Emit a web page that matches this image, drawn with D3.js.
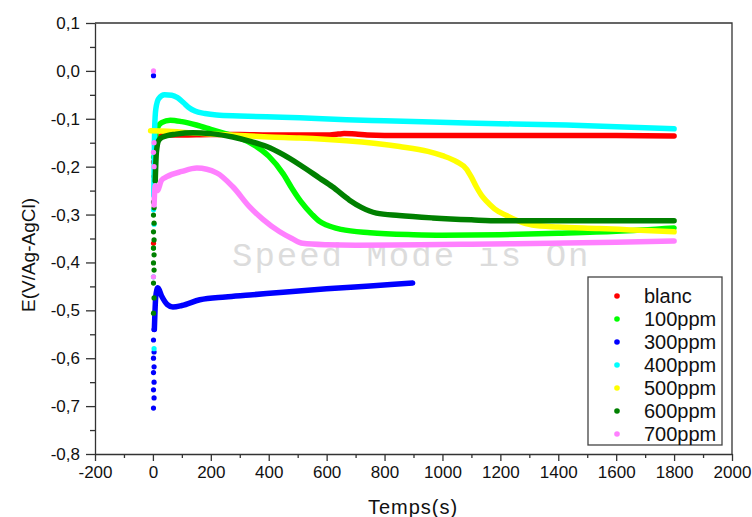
<!DOCTYPE html>
<html>
<head>
<meta charset="utf-8">
<script src="https://cdn.jsdelivr.net/npm/d3@7"></script>
<style>
    body { margin: 0; background: #fff; }
    text { font-family: "Liberation Sans", Arial, sans-serif; fill: #111; }
    .axis path, .axis line { stroke: #333; stroke-width: 1.3; }
    .axis text { font-size: 17px; }
</style>
</head>
<body>
<div id="chart"></div>
<script>
// values
var names = ["blanc", "100ppm", "300ppm", "400ppm", "500ppm", "600ppm", "700ppm"];
var colors = ["#ff0000", "#00ff00", "#0000ff", "#00ffff", "#ffff00", "#008000", "#ff80ff"];

var blancT = [10, 30, 60, 100, 200, 300, 400, 500, 600, 640, 660, 700, 740, 800, 1000, 1200, 1400, 1600, 1800];
var blancE = [-0.15, -0.135, -0.134, -0.134, -0.133, -0.133, -0.134, -0.134, -0.134, -0.132, -0.131, -0.132, -0.134, -0.135, -0.135, -0.135, -0.135, -0.135, -0.136];
var blancStart = [-0.36, -0.22, -0.19, -0.17];

var p100T = [7, 15, 30, 60, 100, 150, 200, 250, 300, 350, 400, 450, 480, 510, 550, 575, 600, 650, 750, 900, 1000, 1200, 1400, 1600, 1800];
var p100E = [-0.145, -0.12, -0.108, -0.103, -0.106, -0.113, -0.122, -0.131, -0.14, -0.155, -0.178, -0.215, -0.245, -0.272, -0.3, -0.314, -0.322, -0.331, -0.338, -0.342, -0.343, -0.342, -0.339, -0.335, -0.328];
var p100Start = [-0.37, -0.22, -0.18];

var p300T = [5, 10, 17, 30, 50, 69, 100, 162, 250, 334, 450, 600, 750, 897];
var p300E = [-0.54, -0.47, -0.453, -0.47, -0.488, -0.493, -0.49, -0.478, -0.472, -0.468, -0.462, -0.455, -0.449, -0.443];
var p300Start = [-0.01, -0.54, -0.562, -0.587, -0.6, -0.618, -0.63, -0.65, -0.666, -0.683, -0.704];

var p400T = [3, 6, 10, 20, 40, 65, 85, 105, 125, 145, 180, 220, 300, 393, 507, 669, 800, 1083, 1428, 1800];
var p400E = [-0.26, -0.12, -0.08, -0.058, -0.05, -0.051, -0.056, -0.066, -0.077, -0.084, -0.089, -0.092, -0.094, -0.096, -0.098, -0.102, -0.104, -0.109, -0.113, -0.121];
var p400Start = [-0.29, -0.32, -0.43, -0.58];

var p500T = [-8, 50, 100, 200, 300, 400, 507, 669, 852, 950, 1000, 1050, 1083, 1100, 1117, 1135, 1152, 1180, 1221, 1260, 1310, 1400, 1541, 1650, 1800];
var p500E = [-0.125, -0.126, -0.128, -0.132, -0.135, -0.138, -0.14, -0.146, -0.158, -0.168, -0.177, -0.19, -0.205, -0.222, -0.242, -0.26, -0.272, -0.288, -0.302, -0.313, -0.322, -0.326, -0.329, -0.332, -0.336];
var p500Start = [];

var p600T = [8, 12, 20, 34, 80, 138, 200, 276, 330, 393, 450, 507, 576, 620, 679, 720, 772, 850, 966, 1100, 1197, 1400, 1541, 1800];
var p600E = [-0.23, -0.17, -0.145, -0.138, -0.132, -0.129, -0.131, -0.138, -0.146, -0.158, -0.175, -0.196, -0.224, -0.242, -0.27, -0.285, -0.297, -0.302, -0.307, -0.311, -0.313, -0.313, -0.313, -0.313];
var p600Start = [-0.274, -0.286, -0.301, -0.318, -0.336, -0.353, -0.37, -0.384, -0.401, -0.416, -0.443, -0.474, -0.506];

var p700T = [4, 8, 15, 30, 48, 100, 152, 220, 276, 334, 380, 438, 480, 517, 600, 700, 921, 1100, 1379, 1600, 1800];
var p700E = [-0.28, -0.24, -0.25, -0.228, -0.221, -0.21, -0.203, -0.213, -0.242, -0.284, -0.31, -0.336, -0.35, -0.36, -0.363, -0.364, -0.363, -0.362, -0.36, -0.358, -0.355];
var p700Start = [0.0, -0.15, -0.17, -0.2, -0.43];

var xTicks = [-200, 0, 200, 400, 600, 800, 1000, 1200, 1400, 1600, 1800, 2000];
var yTicks = [-0.8, -0.7, -0.6, -0.5, -0.4, -0.3, -0.2, -0.1, 0.0, 0.1];

var seriesT = [blancT, p100T, p300T, p400T, p500T, p600T, p700T];
var seriesE = [blancE, p100E, p300E, p400E, p500E, p600E, p700E];
var seriesStart = [blancStart, p100Start, p300Start, p400Start, p500Start, p600Start, p700Start];

var width = 752, height = 517,
    plotLeft = 95, plotRight = 732, plotTop = 23, plotBottom = 454;

var svg = d3.select("#chart").append("svg")
    .attr("width", width)
    .attr("height", height);

var x = d3.scaleLinear().domain([-200, 2000]).range([plotLeft, plotRight]);
var y = d3.scaleLinear().domain([-0.8, 0.1]).range([plotBottom, plotTop]);

// minor ticks
svg.append("g")
    .attr("class", "axis")
    .attr("transform", "translate(0," + plotBottom + ")")
    .call(d3.axisBottom(x).tickValues(d3.range(-100, 2000, 200)).tickSize(4).tickFormat(""))
    .select(".domain").remove();
svg.append("g")
    .attr("class", "axis")
    .attr("transform", "translate(" + plotLeft + ",0)")
    .call(d3.axisLeft(y).tickValues(d3.range(-0.75, 0.1, 0.1)).tickSize(5).tickFormat(""))
    .select(".domain").remove();

svg.append("g")
    .attr("class", "axis")
    .attr("transform", "translate(0," + plotBottom + ")")
    .call(d3.axisBottom(x).tickValues(xTicks).tickSize(7).tickSizeOuter(0).tickPadding(5)
        .tickFormat(function (d) { return String(d); }));

svg.append("g")
    .attr("class", "axis")
    .attr("transform", "translate(" + plotLeft + ",0)")
    .call(d3.axisLeft(y).tickValues(yTicks).tickSize(9).tickSizeOuter(0).tickPadding(6)
        .tickFormat(function (d) { return d3.format(".1f")(d).replace(".", ",").replace("−", "-"); }));

// frame top and right
svg.append("path")
    .attr("d", "M" + plotLeft + "," + plotTop + "H" + plotRight + "V" + plotBottom)
    .attr("fill", "none")
    .attr("stroke", "#333")
    .attr("stroke-width", 1.3);

// watermark
svg.append("text")
    .attr("x", 232)
    .attr("y", 266)
    .style("font-family", "'Liberation Mono', 'DejaVu Sans Mono', monospace")
    .style("font-size", "34px")
    .style("letter-spacing", "2px")
    .style("fill", "#dcdcdc")
    .text("Speed Mode is On");

var line = d3.line()
    .x(function (d) { return x(d[0]); })
    .y(function (d) { return y(d[1]); })
    .curve(d3.curveMonotoneX);

var plot = svg.append("g");

names.forEach(function (n, i) {
    var pts = seriesT[i].map(function (t, j) { return [t, seriesE[i][j]]; });
    plot.append("path")
        .datum(pts)
        .attr("d", line)
        .attr("fill", "none")
        .attr("stroke", colors[i])
        .attr("stroke-width", 5.5)
        .attr("stroke-linecap", "round")
        .attr("stroke-linejoin", "round");

    plot.selectAll(".start" + i)
        .data(seriesStart[i])
        .enter().append("circle")
        .attr("class", "start" + i)
        .attr("cx", function (d, j) { return x(j % 2 ? 4 : 2); })
        .attr("cy", function (d) { return y(d); })
        .attr("r", 2.6)
        .attr("fill", colors[i]);
});

// legend
var legend = svg.append("g").attr("transform", "translate(588,277)");
legend.append("rect")
    .attr("width", 134)
    .attr("height", 168)
    .attr("fill", "#fff")
    .attr("stroke", "#444")
    .attr("stroke-width", 1.3);

var items = legend.selectAll(".item")
    .data(names)
    .enter().append("g")
    .attr("class", "item")
    .attr("transform", function (d, i) { return "translate(0," + (19 + i * 23) + ")"; });

items.append("circle")
    .attr("cx", 29)
    .attr("cy", 0)
    .attr("r", 2.8)
    .attr("fill", function (d, i) { return colors[i]; });

items.append("text")
    .attr("x", 56)
    .attr("y", 7)
    .style("font-size", "20px")
    .text(function (d) { return d; });

// axis titles
svg.append("text")
    .attr("x", 413)
    .attr("y", 514)
    .attr("text-anchor", "middle")
    .style("font-size", "20px")
    .style("letter-spacing", "1px")
    .text("Temps(s)");

svg.append("text")
    .attr("transform", "translate(35,255) rotate(-90)")
    .attr("text-anchor", "middle")
    .style("font-size", "19px")
    .text("E(V/Ag-AgCl)");
</script>
</body>
</html>
